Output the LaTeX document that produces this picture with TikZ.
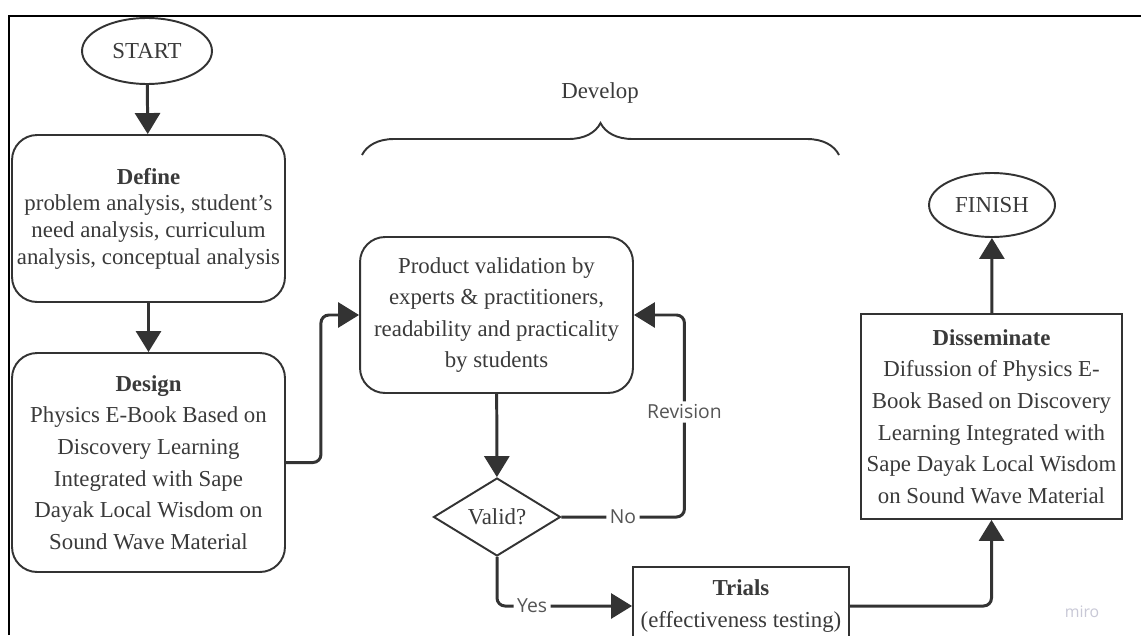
\documentclass[tikz,border=0pt]{standalone}
\usepackage{fontspec}
\setmainfont{Liberation Serif}
\newfontfamily\labelfont{Open Sans}
\usetikzlibrary{shapes.geometric,arrows.meta,decorations.pathreplacing}

\definecolor{ink}{HTML}{333333}
\definecolor{txt}{HTML}{3A3A3A}
\definecolor{lbl}{HTML}{555555}
\definecolor{wm}{HTML}{C8C8D6}

\tikzset{
  box/.style={draw=ink, line width=1.1pt, align=center, text=txt, inner sep=0pt,
    font=\fontsize{13}{18}\selectfont},
  roundbox/.style={box, rounded corners=0.5cm},
  term/.style={draw=ink, line width=1.1pt, ellipse, inner sep=0pt, text=txt,
    font=\fontsize{13}{16}\selectfont},
  flow/.style={draw=ink, line width=1.7pt, rounded corners=0.16cm,
    -{Triangle[length=0.42cm,width=0.5cm]}},
  flowlbl/.style={fill=white, text=lbl, inner sep=2pt,
    font=\labelfont\fontsize{11}{13}\selectfont}
}

\begin{document}
\begin{tikzpicture}[x=0.02cm, y=-0.02cm]
    \useasboundingbox (0,0) rectangle (1141,635);
    \clip (0,0) rectangle (1141,635);
    \fill[white] (0,0) rectangle (1141,635);
    % Marc
    \draw[line width=1.1pt] (9,635) -- (9,16) -- (1141,16);

    % Columna esquerra
    \node[term, minimum width=2.6cm, minimum height=1.32cm] (start) at (147,51) {START};
    \node[roundbox, minimum width=5.46cm, minimum height=3.34cm,
          font=\fontsize{13}{15.2}\selectfont] (define) at (148.5,218.5)
        {\textbf{Define}\\problem analysis, student's\\need analysis, curriculum\\analysis, conceptual analysis};
    \node[roundbox, minimum width=5.46cm, minimum height=4.38cm] (design) at (148.5,462.5)
        {\textbf{Design}\\Physics E-Book Based on\\Discovery Learning\\Integrated with Sape\\Dayak Local Wisdom on\\Sound Wave Material};

    % Develop
    \node[font=\fontsize{13}{16}\selectfont, text=txt] (develop) at (600,93) {Develop};
    \coordinate (braceL) at (362,155);
    \coordinate (braceR) at (839,155);
    \draw[ink, line width=1.1pt, decorate, decoration={brace, amplitude=0.64cm}] (braceL) -- (braceR);

    \node[roundbox, minimum width=5.46cm, minimum height=3.12cm] (validation) at (496.5,315)
        {Product validation by\\experts \& practitioners,\\readability and practicality\\by students};
    \node[diamond, draw=ink, line width=1.1pt, minimum width=2.54cm, minimum height=1.56cm,
          inner sep=0pt, text=txt, font=\fontsize{13}{16}\selectfont] (valid) at (497,517) {Valid?};
    \node[box, minimum width=4.32cm, minimum height=1.56cm] (trials) at (741,606)
        {\textbf{Trials}\\(effectiveness testing)};

    % Columna dreta
    \node[box, minimum width=5.22cm, minimum height=4.1cm] (disseminate) at (991.5,416.5)
        {\textbf{Disseminate}\\Difussion of Physics E-\\Book Based on Discovery\\Learning Integrated with\\Sape Dayak Local Wisdom\\on Sound Wave Material};
    \node[term, minimum width=2.52cm, minimum height=1.28cm] (finish) at (992,205) {FINISH};

    \node[text=wm, font=\labelfont\fontsize{9}{10}\selectfont] (miro) at (1082,612) {miro};

    % Fletxes
    \draw[flow] (start) -- (define);
    \draw[flow] (define) -- (design);
    \draw[flow] (design.east) -- ++(35,0) |- (validation.west);
    \draw[flow] (validation) -- (valid);
    \draw[flow] (valid.east) -- node[flowlbl] {No} ++(123,0)
                |- node[flowlbl, pos=0.26] {Revision} (validation.east);
    \draw[flow] (valid.south) |- node[flowlbl, pos=0.63] {Yes} (trials.west);
    \draw[flow] (trials.east) -| (disseminate.south);
    \draw[flow] (disseminate) -- (finish);
\end{tikzpicture}
\end{document}
